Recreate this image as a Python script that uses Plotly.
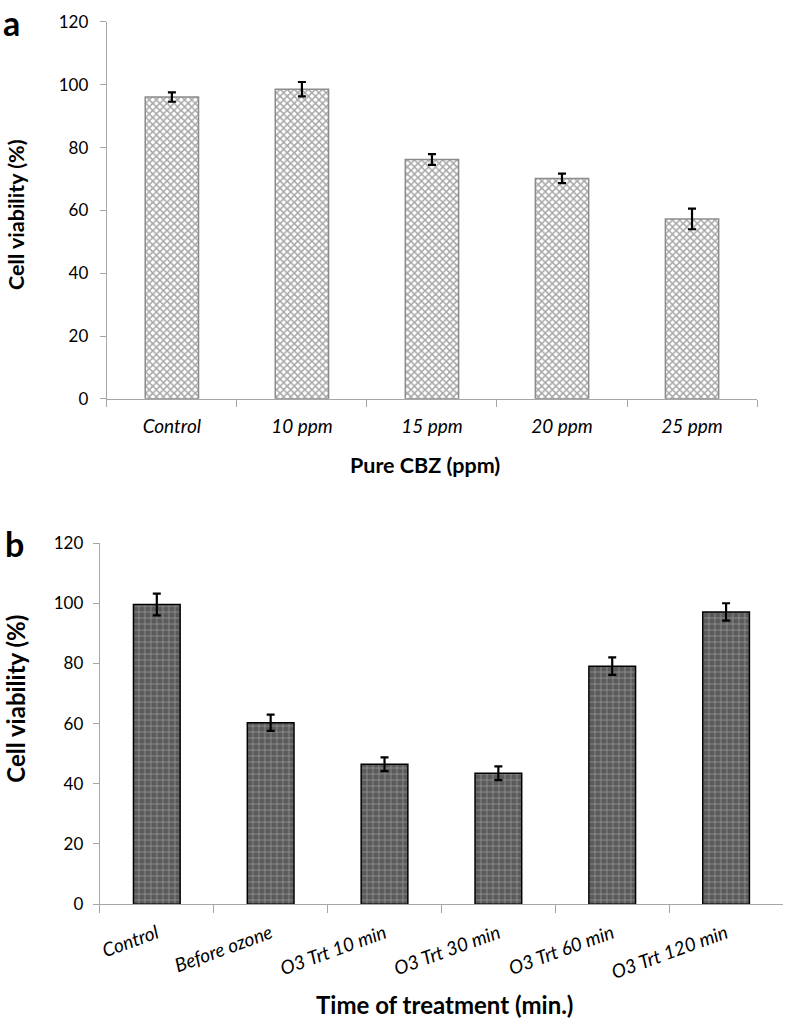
import plotly.graph_objects as go

# panel a: pure CBZ
cbz_labels = ["Control", "10 ppm", "15 ppm", "20 ppm", "25 ppm"]
cbz_viability = [96.1, 98.6, 76.2, 70.2, 57.3]
cbz_err = [1.5, 2.3, 1.7, 1.5, 3.3]

# panel b: ozone treatment time
ozone_labels = ["Control", "Before ozone", "O3 Trt 10 min", "O3 Trt 30 min", "O3 Trt 60 min", "O3 Trt 120 min"]
ozone_viability = [99.6, 60.3, 46.5, 43.5, 79.1, 97.1]
ozone_err = [3.6, 2.7, 2.3, 2.3, 2.9, 2.9]

W, H = 786, 1029
FONT = "Lato"
AXIS_GRAY = "#a6a6a6"


def sy(px):
    # screen row (as it ends up in the snapshot) -> paper fraction
    return 1 - (px - 12) / 0.98 / H


fig = go.Figure()

fig.add_trace(go.Bar(
    x=cbz_labels, y=cbz_viability,
    error_y=dict(type="data", array=cbz_err, color="black", thickness=2.2, width=4),
    marker=dict(color="white", line=dict(color="#8c8c8c", width=1.5),
                pattern=dict(shape="x", fgcolor="#505050", bgcolor="white", size=5, solidity=0.5)),
    xaxis="x", yaxis="y", showlegend=False,
))

fig.add_trace(go.Bar(
    x=ozone_labels, y=ozone_viability,
    error_y=dict(type="data", array=ozone_err, color="black", thickness=2.2, width=4),
    marker=dict(color="#5a5a5a", line=dict(color="black", width=1.5),
                pattern=dict(shape="+", fgcolor="#f0f0f0", bgcolor="#5a5a5a", size=6, solidity=0.2)),
    xaxis="x2", yaxis="y2", showlegend=False,
))

tick_font = dict(family=FONT, size=17, color="black")
x_font = dict(family=FONT, size=19, color="black", style="italic")

fig.update_layout(
    width=W, height=H,
    margin=dict(l=0, r=0, t=0, b=0),
    plot_bgcolor="white", paper_bgcolor="white",
    bargap=0.59,
    xaxis=dict(domain=[106 / W, 757 / W], anchor="y",
               showline=True, linecolor=AXIS_GRAY, linewidth=1.3,
               ticks="outside", tickson="boundaries", ticklen=7, tickcolor=AXIS_GRAY,
               ticklabelstandoff=10, tickfont=x_font, showgrid=False),
    yaxis=dict(domain=[sy(400), sy(23)], anchor="x", range=[0, 120], dtick=20,
               showline=True, linecolor=AXIS_GRAY, linewidth=1.3,
               ticks="outside", ticklen=6, tickcolor=AXIS_GRAY, ticklabelstandoff=8,
               tickfont=tick_font, showgrid=False, zeroline=False),
    xaxis2=dict(domain=[99 / W, 783 / W], anchor="y2",
                showline=True, linecolor=AXIS_GRAY, linewidth=1.3,
                ticks="outside", tickson="boundaries", ticklen=8, tickcolor=AXIS_GRAY,
                tickfont=x_font, tickangle=-20, ticklabelstandoff=10, showgrid=False),
    yaxis2=dict(domain=[sy(905.5), sy(544.3)], anchor="x2", range=[0, 120], dtick=20,
                showline=True, linecolor=AXIS_GRAY, linewidth=1.3,
                ticks="outside", ticklen=6, tickcolor=AXIS_GRAY, ticklabelstandoff=6,
                tickfont=tick_font, showgrid=False, zeroline=False),
)

label_font = dict(family=FONT, size=34, color="black")
notes = [
    dict(text="<b>a</b>", x=11, y=23.6, font=label_font),
    dict(text="<b>b</b>", x=14, y=545, font=label_font),
    dict(text="<b>Cell viability (%)</b>", x=15, y=215, textangle=-90,
         font=dict(family=FONT, size=21.5, color="black")),
    dict(text="<b>Cell viability (%)</b>", x=15, y=700, textangle=-90,
         font=dict(family=FONT, size=24, color="black")),
    dict(text="<b>Pure CBZ (ppm)</b>", x=425, y=466,
         font=dict(family=FONT, size=21.5, color="black")),
    dict(text="<b>Time of treatment (min.)</b>", x=444, y=1005.5,
         font=dict(family=FONT, size=24, color="black")),
]
for n in notes:
    n["x"] = n["x"] / W
    n["y"] = sy(n["y"])
    fig.add_annotation(xref="paper", yref="paper", showarrow=False,
                       xanchor="center", yanchor="middle", **n)

fig.write_html("out.html", config={"displayModeBar": False},
               post_script="document.body.style.margin='0';")
